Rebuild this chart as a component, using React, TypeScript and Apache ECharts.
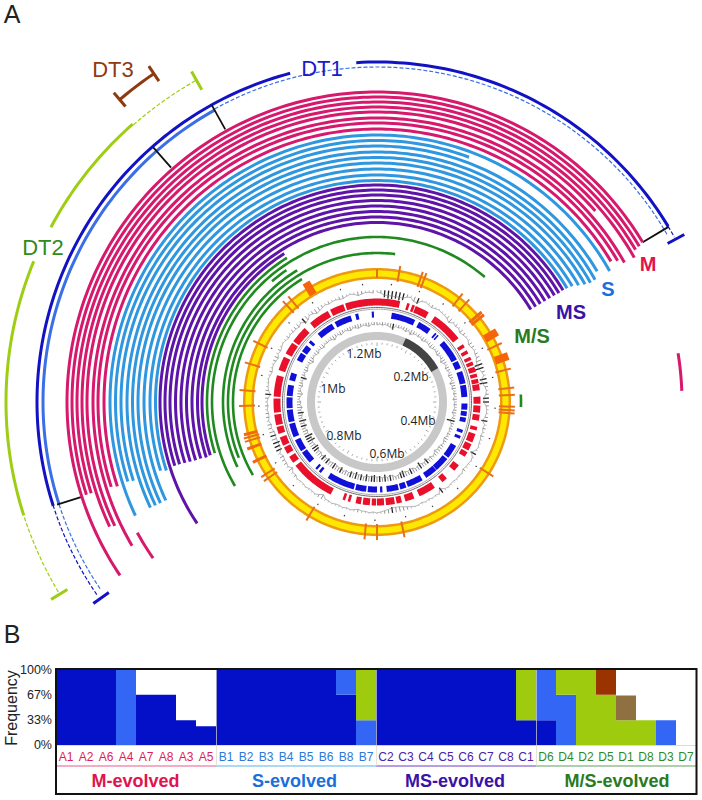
import React, { useEffect, useRef } from "react";
import * as echarts from "echarts";

const CENTER = [377, 402];
const SANS = "'Liberation Sans', Arial, sans-serif";

// Panel A: arcs as [radius, startAngle, endAngle], angles clockwise from 12 o'clock.
const dt1Solid = [[340, 252.2, 345.2], [340, 356.5, 418.9]];
const dt1Dash = [[340, 235.5, 252.2], [340, 418.9, 421]];
const dt1bSolid = [[334, 252.2, 331]];
const dt1bDash = [[334, 236, 252.2], [335, 331, 420]];
const dt2Solid = [[371, 252.2, 292.3], [370, 298.2, 318.7]];
const dt2Dash = [[371, 239.2, 252.2], [369, 318.7, 330.7]];
const dt3Arc = [[397, 319.6, 325.8]];
const mArcs = [
  [310, 236, 419], [305, 252.3, 419.3], [305, 80.8, 87.9], [300, 252.3, 419.5], [295, 245, 420.7],
  [290, 244.7, 408.8], [284, 239.6, 420.6], [279, 252.3, 419.6], [273, 252, 419], [273, 235.1, 241.4],
];
const sArcs = [
  [267, 244.8, 420.6], [261.5, 252.3, 380.6], [256, 252.1, 419.3], [250, 245, 420.7], [244.5, 245, 420.8],
  [239, 245, 420.5], [233, 245, 419.9], [227, 252.4, 419.3], [221.5, 252, 419.1],
];
const msArcs = [
  [217, 236, 419], [212, 252.5, 419.1], [207, 252.5, 419], [201.5, 252.4, 419], [196, 252.3, 419],
  [190.5, 252.2, 419], [185, 252.2, 419], [179.5, 252, 419], [175, 252.3, 328],
];
const msoArcs = [
  [170, 252.5, 328], [165, 239.4, 400.8], [160, 319, 325.5], [154, 245, 328.8],
  [149, 248, 367], [144, 239.5, 328.6], [144, 87, 92],
];
// radial marks as [angle, innerRadius, outerRadius]
const connectors = [[330.9, 312, 340], [318.7, 312, 339], [252.2, 311, 336], [59, 310, 340]];
const dt1Caps = [[61.4, 331, 350], [234.6, 329, 348]];
const dt2Caps = [[238.8, 362, 381], [330.7, 358, 379]];
const dt3Caps = [[319.6, 388, 406], [325.8, 388, 406]];

// Genome map
const thinMarks = [[9.7, 122, 138], [19.4, 122, 138], [21, 122, 138], [38.3, 122, 138], [42, 122, 138], [64.7, 122, 138], [76, 122, 138], [84, 122, 138], [87, 122, 138], [92, 122, 138], [93.5, 122, 138], [94.8, 122, 138], [122.6, 122, 138], [168.5, 122, 138], [180, 122, 138], [185.2, 122, 138], [210.8, 122, 138], [235, 122, 138], [237, 122, 138], [253.2, 122, 138], [254.7, 122, 138], [268.3, 122, 138], [275, 122, 138], [286.7, 122, 138], [296.3, 122, 138], [317, 122, 138], [320, 122, 138], [0, 124, 133]];
const midMarks = [[49.3, 122, 138], [50.8, 122, 138], [244.1, 123, 138], [250.1, 123, 138], [256.2, 123, 137]];
const blockMarks = [[59.7, 125, 139], [70.7, 125, 139], [329.3, 125, 139]];
const redGenes = [
  [342, 373], [377, 378.5], [380, 381.5], [382, 390], [394, 412], [416, 418], [420, 422],
  [64, 66], [67, 69], [70, 73], [74, 76], [77, 79.5], [80, 83.5], [87, 91], [92, 96], [97, 100.5], [104, 106],
  [108, 113], [114, 118], [119, 122], [127.7, 131.7], [137.5, 140.8], [146, 155.7], [158.8, 164], [166, 169], [170, 175], [176, 180],
  [180.5, 183], [184, 188], [189, 192], [195, 196.5], [198, 199.5], [206.6, 232], [234, 238], [240, 244], [245, 250],
  [252, 256], [257, 263], [264, 272], [273, 285], [288, 296], [298, 305], [306, 315.7], [319.7, 331.6], [333, 341],
];
const blueGenes = [
  [319, 330], [332, 343], [346, 348], [356.6, 358], [369.5, 385], [387.7, 396.3], [400, 401.2], [402, 403],
  [47.7, 62], [63, 68], [70, 78], [79, 86.7], [91, 95], [96, 99], [100, 103], [108, 110], [112, 114], [119, 128], [129, 138.7],
  [139, 147], [149.7, 160], [161, 165], [166, 173.7], [176.5, 178], [180, 186], [187, 194], [195, 213], [218.4, 220], [221.5, 223],
  [228, 236], [237, 245], [247, 256], [257, 265], [266, 273], [274, 281], [284, 289], [297.6, 303], [304, 308.8], [311, 313],
];
// inward depth of the outer and inner plots, one value per 2 degrees
const outerHist = [
  2, 3, 7, 8, 8, 7, 8, 7, 3, 2, 5, 6, 2, 1, 2, 3, 2, 1, 2, 2, 3, 5, 2, 3, 2, 4, 3, 2, 2, 4,
  3, 2, 3, 3, 5, 8, 9, 3, 2, 7, 8, 3, 2, 3, 6, 6, 3, 2, 2, 3, 6, 2, 3, 2, 3, 2, 2, 1, 2, 6,
  2, 1, 2, 2, 3, 1, 2, 1, 2, 2, 1, 2, 6, 1, 2, 1, 2, 1, 2, 1, 1, 2, 3, 4, 5, 5, 6, 4, 3, 2,
  1, 2, 1, 2, 2, 3, 2, 1, 2, 1, 2, 2, 1, 2, 2, 5, 3, 1, 2, 2, 1, 2, 2, 1, 3, 2, 5, 2, 3, 3,
  4, 2, 6, 6, 7, 5, 6, 5, 3, 4, 2, 3, 3, 2, 3, 2, 3, 6, 3, 2, 2, 1, 2, 3, 2, 2, 3, 4, 2, 3,
  2, 1, 2, 3, 2, 3, 3, 4, 2, 6, 5, 2, 3, 5, 4, 3, 2, 3, 2, 2, 3, 3, 2, 1, 2, 4, 3, 2, 2, 3,
];
const innerHist = [
  3, 2, 3, 2, 3, 4, 6, 2, 3, 2, 3, 4, 2, 5, 3, 2, 3, 2, 4, 3, 2, 3, 4, 3, 2, 3, 4, 2, 3, 5,
  3, 2, 4, 3, 2, 4, 3, 2, 5, 3, 4, 2, 3, 2, 4, 2, 3, 2, 3, 4, 2, 3, 8, 3, 2, 3, 2, 3, 2, 4,
  3, 2, 3, 4, 3, 5, 3, 2, 4, 3, 6, 3, 4, 7, 4, 3, 5, 6, 4, 5, 7, 6, 4, 3, 5, 6, 4, 7, 4, 6,
  5, 7, 6, 5, 7, 4, 6, 5, 7, 5, 6, 4, 5, 3, 6, 4, 5, 6, 5, 4, 6, 4, 6, 3, 5, 4, 6, 7, 5, 4,
  8, 6, 8, 4, 5, 3, 6, 4, 7, 3, 4, 6, 3, 5, 3, 4, 2, 3, 5, 3, 2, 4, 3, 2, 6, 3, 2, 4, 3, 2,
  3, 5, 3, 2, 3, 4, 2, 3, 4, 2, 3, 2, 3, 5, 3, 2, 4, 3, 2, 3, 4, 2, 3, 4, 3, 2, 3, 4, 2, 3,
];
const outerDots = [7, 21, 34, 48, 63, 78, 93, 108, 123, 137, 152, 166, 181, 196, 210, 225, 239, 254, 268, 283, 297, 312, 327, 342, 353];
const mbLabels = ["0.2Mb", "0.4Mb", "0.6Mb", "0.8Mb", "1Mb", "1.2Mb"];
const mbX = [411, 418, 387, 344, 333, 364];
const mbY = [376, 420, 453, 435, 388, 353];

// Panel B
const sampleGroups = [
  ["A1", "A2", "A6", "A4", "A7", "A8", "A3", "A5"],
  ["B1", "B2", "B3", "B4", "B5", "B6", "B8", "B7"],
  ["C2", "C3", "C4", "C5", "C6", "C7", "C8", "C1"],
  ["D6", "D4", "D2", "D5", "D1", "D8", "D3", "D7"],
];
const groupNames = ["M-evolved", "S-evolved", "MS-evolved", "M/S-evolved"];
const groupColors = ["#E0144F", "#1B6FDB", "#3A12A8", "#2A7A1E"];
const labelColors = ["#DC1E5A", "#2C78D8", "#4A20A8", "#2F8A2A"];
const ruleColors = ["#E85A8A", "#58B4EC", "#6A3CC8", "#5E9E5E"];
const dt1Freq = [100, 100, 100, 0, 67, 67, 33, 25, 100, 100, 100, 100, 100, 100, 67, 0, 100, 100, 100, 100, 100, 100, 100, 33, 33, 0, 0, 0, 0, 0, 0, 0];
const dt1bFreq = [0, 0, 0, 100, 0, 0, 0, 0, 0, 0, 0, 0, 0, 0, 33, 33, 0, 0, 0, 0, 0, 0, 0, 0, 67, 67, 0, 0, 0, 0, 33, 0];
const dt2Freq = [0, 0, 0, 0, 0, 0, 0, 0, 0, 0, 0, 0, 0, 0, 0, 67, 0, 0, 0, 0, 0, 0, 0, 67, 0, 33, 100, 67, 33, 33, 0, 0];
const dt3Freq = [0, 0, 0, 0, 0, 0, 0, 0, 0, 0, 0, 0, 0, 0, 0, 0, 0, 0, 0, 0, 0, 0, 0, 0, 0, 0, 0, 33, 0, 0, 0, 0];
const otherFreq = [0, 0, 0, 0, 0, 0, 0, 0, 0, 0, 0, 0, 0, 0, 0, 0, 0, 0, 0, 0, 0, 0, 0, 0, 0, 0, 0, 0, 33, 0, 0, 0];

const norm = (a: number) => ((a % 360) + 360) % 360;

function arcSeries(rows: number[][], color: string, lineWidth: number, dash?: number[]) {
  return {
    type: "custom",
    coordinateSystem: "polar",
    silent: true,
    clip: false,
    data: rows,
    encode: { radius: 0, angle: 1 },
    renderItem: (_p: any, api: any) => {
      const r = api.value(0);
      const a0 = api.value(1);
      const a1 = api.value(2);
      const points: number[][] = [];
      for (let a = a0; a < a1; a += 1) points.push(api.coord([r, norm(a)]));
      points.push(api.coord([r, norm(a1)]));
      return {
        type: "polyline",
        shape: { points },
        style: { stroke: color, lineWidth, fill: null, lineDash: dash, lineCap: "butt" },
      };
    },
  };
}

function radialSeries(rows: number[][], color: string, lineWidth: number) {
  return {
    type: "custom",
    coordinateSystem: "polar",
    silent: true,
    clip: false,
    data: rows,
    encode: { radius: 1, angle: 0 },
    renderItem: (_p: any, api: any) => {
      const a = norm(api.value(0));
      const p0 = api.coord([api.value(1), a]);
      const p1 = api.coord([api.value(2), a]);
      return {
        type: "line",
        shape: { x1: p0[0], y1: p0[1], x2: p1[0], y2: p1[1] },
        style: { stroke: color, lineWidth },
      };
    },
  };
}

function histSeries(values: number[], base: number, stroke: string) {
  const tips = values.map((v, i) => [base - Math.min(v, 5), i * 2]);
  const rows = values.map((v, i) => [i * 2, base - v, base]);
  return [
    {
      type: "line",
      coordinateSystem: "polar",
      silent: true,
      showSymbol: false,
      symbol: "none",
      data: tips,
      lineStyle: { color: stroke, width: 0.6 },
    },
    radialSeries(rows.filter((r) => r[2] - r[1] >= 6), "#222", 1.3),
    radialSeries(rows.filter((r) => r[2] - r[1] >= 3 && r[2] - r[1] < 6), "#666", 0.7),
    radialSeries(rows.filter((r) => r[2] - r[1] < 3), "#999", 0.6),
  ];
}

function text(t: string, x: number, y: number, fontSize: number, fill: string, extra: any = {}) {
  return {
    type: "text",
    x,
    y,
    silent: true,
    z: 50,
    ...(extra.rotation ? { rotation: extra.rotation } : {}),
    style: {
      text: t,
      fontSize,
      fontFamily: extra.fontFamily || SANS,
      fontWeight: extra.fontWeight || "normal",
      fill,
      align: extra.align || "center",
      verticalAlign: "middle",
    },
  };
}

export default function App() {
  const ref = useRef<HTMLDivElement>(null);
  useEffect(() => {
    const chart = echarts.init(ref.current!, undefined, { renderer: "svg" });
    const xData = sampleGroups.flatMap((g, gi) =>
      g.map((s) => ({ value: s, textStyle: { color: labelColors[gi] } })),
    );
    const barSeries = (data: number[], color: string) => ({
      type: "bar",
      stack: "freq",
      xAxisIndex: 0,
      yAxisIndex: 0,
      barWidth: "100%",
      silent: true,
      data: data.map((v) => (v === 0 ? null : v)),
      itemStyle: { color },
    });
    const groupEdges = [56, 216, 376, 536, 696];
    const graphic: any[] = [
      text("A", 12, 14, 25, "#222"),
      text("B", 12, 634, 25, "#222"),
      text("DT1", 322, 68, 22, "#1A1ACF"),
      text("DT2", 43, 247, 22, "#2F8A1F"),
      text("DT3", 113, 69, 22, "#8F3A12"),
      text("M", 648, 264, 20, "#E0144F", { fontWeight: "bold" }),
      text("S", 608, 289, 20, "#1B6FDB", { fontWeight: "bold" }),
      text("MS", 571, 312, 20, "#3A12A8", { fontWeight: "bold" }),
      text("M/S", 532, 336, 20, "#2A7A1E", { fontWeight: "bold" }),
      ...mbLabels.map((t, i) =>
        text(t, mbX[i], mbY[i], 12, "#222", { fontFamily: "'Open Sans', sans-serif" }),
      ),
      text("Frequency", 11, 708, 16, "#222", { rotation: Math.PI / 2 }),
      {
        type: "rect",
        silent: true,
        z: 40,
        shape: { x: 56, y: 669, width: 640.5, height: 125 },
        style: { fill: null, stroke: "#111", lineWidth: 2 },
      },
      ...groupNames.flatMap((name, i) => [
        {
          type: "line",
          silent: true,
          z: 30,
          shape: { x1: groupEdges[i], y1: 766, x2: groupEdges[i + 1], y2: 766 },
          style: { stroke: ruleColors[i], lineWidth: 1 },
        },
        {
          type: "line",
          silent: true,
          z: 30,
          shape: { x1: groupEdges[i], y1: 745.5, x2: groupEdges[i + 1], y2: 745.5 },
          style: { stroke: ruleColors[i], lineWidth: 0.6, opacity: 0.5 },
        },
        text(name, (groupEdges[i] + groupEdges[i + 1]) / 2 + (i === 2 ? -1 : i === 3 ? 1 : i === 0 ? -0.5 : -1.5), 781, 18, groupColors[i], {
          fontWeight: "bold",
        }),
      ]),
      ...[216, 376, 536].map((x) => ({
        type: "line",
        silent: true,
        z: 30,
        shape: { x1: x + 0.5, y1: 670, x2: x + 0.5, y2: 766 },
        style: { stroke: "#D8D8C8", lineWidth: 0.7 },
      })),
    ];

    chart.setOption({
      animation: false,
      polar: { center: CENTER, radius: 420 },
      angleAxis: { type: "value", min: 0, max: 360, startAngle: 90, clockwise: true, show: false },
      radiusAxis: { type: "value", min: 0, max: 420, show: false },
      grid: { left: 56, top: 670, width: 640, height: 75, containLabel: false },
      xAxis: {
        type: "category",
        data: xData,
        axisLine: { show: false },
        axisTick: { show: false },
        axisLabel: { interval: 0, margin: 6, fontSize: 12, fontFamily: SANS },
      },
      yAxis: {
        type: "value",
        min: 0,
        max: 100,
        interval: 100 / 3,
        axisLine: { show: false },
        axisTick: { show: false },
        splitLine: { show: false },
        axisLabel: {
          fontSize: 12.5,
          color: "#222",
          margin: 4,
          fontFamily: SANS,
          formatter: (v: number) => Math.round(v) + "%",
        },
      },
      graphic,
      series: [
        barSeries(dt1Freq, "#0410C8"),
        barSeries(dt1bFreq, "#3366F5"),
        barSeries(dt2Freq, "#9FCB0E"),
        barSeries(dt3Freq, "#993300"),
        barSeries(otherFreq, "#8F7040"),
        arcSeries(dt2Solid, "#9DCE14", 3),
        arcSeries(dt2Dash, "#9DCE14", 1.2, [4, 2]),
        arcSeries(dt3Arc, "#8C3A0E", 3),
        radialSeries(dt3Caps, "#8C3A0E", 3),
        radialSeries(dt2Caps, "#9DCE14", 3),
        arcSeries(dt1bSolid, "#3A6FE6", 3),
        arcSeries(dt1bDash, "#3A6FE6", 1.2, [4, 2]),
        arcSeries(dt1Solid, "#1212C4", 3),
        arcSeries(dt1Dash, "#1212C4", 1.2, [4, 2]),
        radialSeries(dt1Caps, "#1212C4", 3),
        radialSeries(connectors, "#111", 1.8),
        arcSeries(mArcs, "#D6196C", 3),
        arcSeries(sArcs, "#2E97E0", 3),
        arcSeries(msArcs, "#5E14A8", 3),
        arcSeries(msoArcs, "#1F8A1F", 2.6),
        arcSeries([[128.5, 0, 360]], "#EE9A10", 11),
        arcSeries([[128.5, 0, 360]], "#FFE800", 6),
        radialSeries(thinMarks, "#E8701A", 2),
        radialSeries(midMarks, "#F0680F", 3),
        radialSeries(blockMarks, "#F5640A", 8),
        ...histSeries(outerHist, 112, "#888"),
        ...histSeries(innerHist, 80, "#888"),
        radialSeries(outerDots.map((a) => [a, 117.5, 119]), "#444", 1.2),
        arcSeries(redGenes.map((g) => [100, g[0], g[1]]), "#E8102A", 7),
        arcSeries(blueGenes.map((g) => [87.5, g[0], g[1]]), "#1010D8", 6),
        arcSeries([[94.5, 0, 360]], "#666", 1),
        arcSeries([[92.8, 0, 360]], "#AAA", 1),
        arcSeries([[66, 0, 360]], "#C8C8C8", 8),
        arcSeries([[66, 24.3, 61]], "#444", 8),
        radialSeries(Array.from({ length: 72 }, (_, i) => [i * 5, i % 6 === 0 ? 56 : 57.5, 59.5]), "#888", 0.7),
      ],
    });
    return () => chart.dispose();
  }, []);
  return <div ref={ref} style={{ position: "absolute", left: 0, top: 0, width: 702, height: 800 }} />;
}
